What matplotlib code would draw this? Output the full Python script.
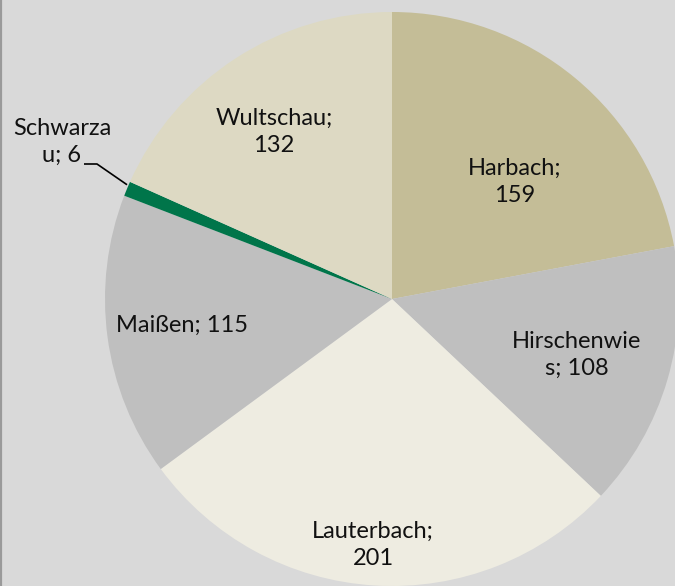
import numpy as np
import matplotlib
matplotlib.use("Agg")
import matplotlib.pyplot as plt
from matplotlib.lines import Line2D

# data
orte = ["Harbach", "Hirschenwies", "Lauterbach", "Maißen", "Schwarzau", "Wultschau"]
werte = [159, 108, 201, 115, 6, 132]
etiketten = ["Harbach;\n159", "Hirschenwie\ns; 108", "Lauterbach;\n201",
             "Maißen; 115", "Schwarza\nu; 6", "Wultschau;\n132"]

farben = ["#C4BD97", "#BFBFBF", "#EEECE1", "#BFBFBF", "#00754A", "#DDD9C3"]

W, H = 675, 586
CX, CY, R = 392, H - 299, 287

# label centres in pixel coords (y from top)
label_pos = [(515, 182), (577, 355), (373, 545), (182, 325), (62, 142), (274, 132)]

plt.rcParams['font.family'] = ['Lato', 'DejaVu Sans']

fig = plt.figure(figsize=(W / 100, H / 100), dpi=100)
fig.patch.set_facecolor("#D9D9D9")
ax = fig.add_axes([0, 0, 1, 1])

wedges, _ = ax.pie(werte, colors=farben, startangle=90, counterclock=False,
                   center=(CX, CY), radius=R, frame=True,
                   wedgeprops=dict(linewidth=0))
ax.set_xlim(0, W)
ax.set_ylim(0, H)
ax.set_aspect("equal")
ax.axis("off")

for txt, (x, y) in zip(etiketten, label_pos):
    ax.text(x, H - y, txt, ha="center", va="center", fontsize=17,
            color="#111111", linespacing=1.38, multialignment="center")

# leader line for the small slice
w = wedges[orte.index("Schwarzau")]
mid = np.deg2rad((w.theta1 + w.theta2) / 2)
px, py = CX + R * np.cos(mid), CY + R * np.sin(mid)
lx, ly = label_pos[orte.index("Schwarzau")]
ax.plot([lx + 22, lx + 35, px], [H - ly - 22, H - ly - 22, py + 4],
        color="black", linewidth=1.2, solid_capstyle="butt")

# left border
fig.add_artist(Line2D([0.002, 0.002], [0, 1], transform=fig.transFigure,
                      color="#9A9A9A", linewidth=1.6))

fig.savefig("out.png", dpi=100, facecolor=fig.get_facecolor())
